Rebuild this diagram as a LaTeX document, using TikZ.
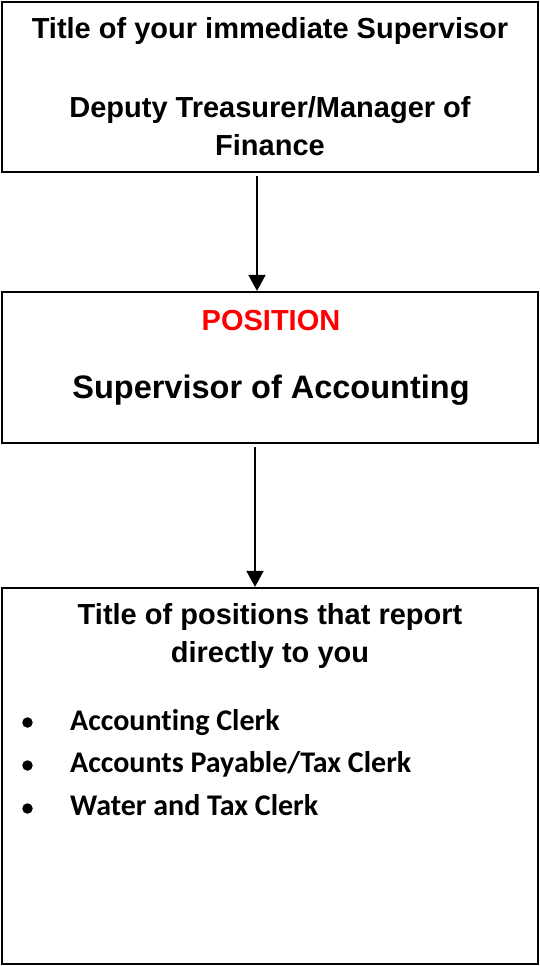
\documentclass[tikz,border=0pt]{standalone}
\usepackage{fontspec}
\setmainfont{Liberation Sans}
\newfontfamily\calfont[Ligatures=NoCommon]{Carlito}
\usetikzlibrary{arrows.meta}
\definecolor{posred}{RGB}{255,0,0}
\tikzset{
  box/.style={draw=black, line width=2.2pt, minimum width=536pt, inner sep=0pt, fill=white},
  hd/.style={anchor=base, inner sep=0pt, font=\fontsize{29}{34}\selectfont\bfseries},
  bigt/.style={anchor=base, inner sep=0pt, font=\fontsize{32.5}{38}\selectfont\bfseries},
  item/.style={anchor=base west, inner sep=0pt, font=\fontsize{30}{36}\selectfont\calfont\bfseries},
  dot/.style={circle, fill=black, inner sep=0pt, minimum size=10.5pt},
  arr/.style={line width=1.8pt, -{Triangle[width=17pt,length=16pt]}, shorten <=3pt}
}
\begin{document}
\begin{tikzpicture}[x=1pt,y=1pt]
\useasboundingbox (0,0) rectangle (540,-966);
% boxes
\node[box, minimum height=170pt] (b1) at (270,-87) {};
\node[box, minimum height=151pt] (b2) at (270,-367.5) {};
\node[box, minimum height=376pt] (b3) at (270,-776) {};
% box 1 text
\node[hd] (t1) at (270,-39) {Title of your immediate Supervisor};
\node[hd] (t2) at (270,-117) {Deputy Treasurer/Manager of};
\node[hd] (t3) at (270,-155) {Finance};
% box 2 text
\node[hd, text=posred] (p1) at (271,-330) {POSITION};
\node[bigt] (p2) at (271,-398.5) {Supervisor of Accounting};
% box 3 text
\node[hd] (h1) at (270,-624.5) {Title of positions that report};
\node[hd] (h2) at (270,-662.5) {directly to you};
\node[dot] (d1) at (27.5,-722.5) {};
\node[dot] (d2) at (27.5,-765.5) {};
\node[dot] (d3) at (27.5,-808.5) {};
\node[item] (i1) at (70,-730) {Accounting Clerk};
\node[item] (i2) at (70,-772.7) {Accounts Payable/Tax Clerk};
\node[item] (i3) at (70,-815) {Water and Tax Clerk};
% arrows
\coordinate (ax1) at (257,0);
\coordinate (ax2) at (255,0);
\draw[arr] (b1.south -| ax1) -- (b2.north -| ax1);
\draw[arr] (b2.south -| ax2) -- (b3.north -| ax2);
\end{tikzpicture}
\end{document}
